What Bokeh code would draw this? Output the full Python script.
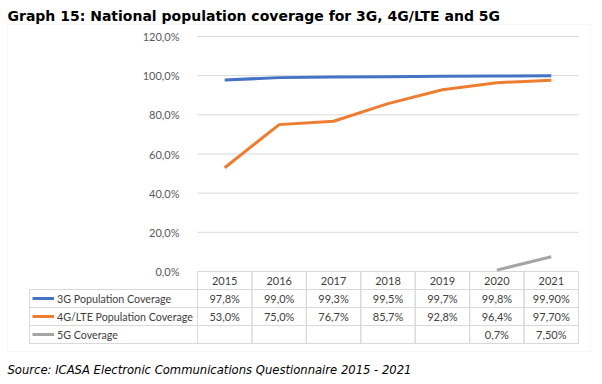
from bokeh.plotting import figure
from bokeh.models import (Range1d, FixedTicker, Label, ColumnDataSource,
                          BoxAnnotation, Legend, LegendItem)
from bokeh.core.properties import value
from bokeh.embed import file_html
from bokeh.resources import INLINE

# ---- data ----
years = [2015, 2016, 2017, 2018, 2019, 2020, 2021]
cov_3g = [97.8, 99.0, 99.3, 99.5, 99.7, 99.8, 99.9]
cov_4g = [53.0, 75.0, 76.7, 85.7, 92.8, 96.4, 97.7]
years_5g = [2020, 2021]
cov_5g = [0.7, 7.5]
dec_3g = [1, 1, 1, 1, 1, 1, 2]
dec_4g = [1, 1, 1, 1, 1, 1, 2]
dec_5g = [1, 2]
series_names = ["3G Population Coverage", "4G/LTE Population Coverage", "5G Coverage"]
y_ticks = [0, 20, 40, 60, 80, 100, 120]
title_text = "Graph 15: National population coverage for 3G, 4G/LTE and 5G"
source_text = "Source: ICASA Electronic Communications Questionnaire 2015 - 2021"

def pct(v, d):
    return f"{v:.{d}f}%".replace(".", ",")

# ---- layout: frame covers the whole canvas; page px -> data coords ----
W, H = 600, 382
FL, FR, FT, FB = 197, 578, 36, 271       # plot-area edges (px)
X0, X1 = years[0] - 0.5, years[-1] + 0.5
Y0, Y1 = 0, 120

def xd(px):
    return X0 + (px - FL) * (X1 - X0) / (FR - FL)

def yd(py):
    return Y0 + (FB - py) * (Y1 - Y0) / (FB - FT)

p = figure(width=W, height=H, output_backend="svg", toolbar_location=None,
           x_range=Range1d(xd(0), xd(W)), y_range=Range1d(yd(H), yd(0)),
           min_border_left=0, min_border_right=0, min_border_top=0, min_border_bottom=0)
p.outline_line_color = None
p.background_fill_color = "white"
p.border_fill_color = "white"
p.xaxis.visible = False
p.xgrid.visible = False
p.ygrid.visible = False
p.yaxis.fixed_location = X0
p.yaxis.ticker = FixedTicker(ticks=y_ticks)
p.yaxis.major_label_overrides = {t: pct(t, 1) for t in y_ticks}
p.yaxis.axis_line_color = None
p.yaxis.major_tick_line_color = None
p.yaxis.minor_tick_line_color = None
p.yaxis.major_label_standoff = 12
p.yaxis.major_label_text_font = "Lato"
p.yaxis.major_label_text_font_size = "11px"
p.yaxis.major_label_text_color = "#595959"

# outer chart box
p.add_layout(BoxAnnotation(left=xd(7), right=xd(590), top=yd(24), bottom=yd(351),
                           fill_color=None, line_color="#e3e3e3", line_width=1))

# horizontal grid lines over the plot area
p.segment(x0=[X0] * len(y_ticks), x1=[X1] * len(y_ticks), y0=y_ticks, y1=y_ticks,
          line_color="#d9d9d9", line_width=1)

# table cells
row_edges = [271, 289, 307, 325, 343]
grid_col = "#d9d9d9"
cl, cr, ct, cb = [], [], [], []
for yr in years:
    for i in range(4):
        cl.append(yr - 0.5); cr.append(yr + 0.5)
        ct.append(yd(row_edges[i])); cb.append(yd(row_edges[i + 1]))
for i in range(1, 4):
    cl.append(xd(29)); cr.append(X0)
    ct.append(yd(row_edges[i])); cb.append(yd(row_edges[i + 1]))
p.quad(left=cl, right=cr, top=ct, bottom=cb, fill_color=None,
       line_color=grid_col, line_width=1)

# lines
colors = ["#4472C4", "#ED7D31", "#A5A5A5"]
r3 = p.line(years, cov_3g, line_color=colors[0], line_width=3, line_join="round")
r4 = p.line(years, cov_4g, line_color=colors[1], line_width=3, line_join="round")
r5 = p.line(years_5g, cov_5g, line_color=colors[2], line_width=3, line_join="round")

def row_y(i):
    return yd((row_edges[i] + row_edges[i + 1]) / 2)

rows = [
    (years, [str(y) for y in years], 0),
    (years, [pct(v, d) for v, d in zip(cov_3g, dec_3g)], 1),
    (years, [pct(v, d) for v, d in zip(cov_4g, dec_4g)], 2),
    (years_5g, [pct(v, d) for v, d in zip(cov_5g, dec_5g)], 3),
]
for xs, texts, i in rows:
    src = ColumnDataSource(dict(x=xs, y=[row_y(i)] * len(xs), t=texts))
    p.text(x="x", y="y", text="t", source=src, text_font=value("Lato"),
           text_font_size="11px", text_color="#404040",
           text_align="center", text_baseline="middle")

# legend rows in the table
legend = Legend(items=[LegendItem(label=series_names[0], renderers=[r3]),
                       LegendItem(label=series_names[1], renderers=[r4]),
                       LegendItem(label=series_names[2], renderers=[r5])],
                location=(32, H - row_edges[4]),
                padding=0, spacing=0, margin=0,
                glyph_height=18, label_height=18, glyph_width=22, label_standoff=3,
                border_line_color=None, background_fill_alpha=0,
                label_text_font="Lato", label_text_font_size="10.7px",
                label_text_color="#404040")
p.add_layout(legend)

# title & source
p.add_layout(Label(x=xd(7), y=yd(15), text=title_text, text_font="DejaVu Sans",
                   text_font_style="bold", text_font_size="14px", text_color="black",
                   text_baseline="middle", text_align="left"))
p.add_layout(Label(x=xd(7), y=yd(369), text=source_text, text_font="DejaVu Sans",
                   text_font_style="italic", text_font_size="11.6px", text_color="black",
                   text_baseline="middle", text_align="left"))

open("out.html", "w").write(file_html(p, INLINE))
